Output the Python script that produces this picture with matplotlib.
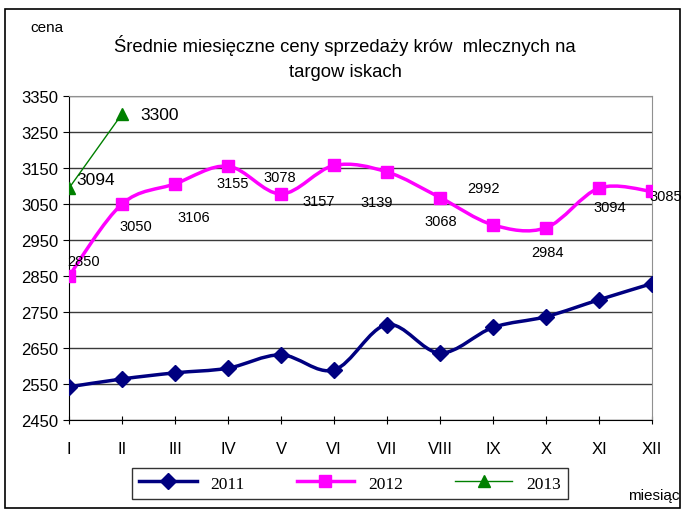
import numpy as np
import matplotlib
matplotlib.use('Agg')
from matplotlib import pyplot as plt
from matplotlib.path import Path
from matplotlib.patches import PathPatch, Rectangle
from matplotlib.lines import Line2D

plt.rcParams['font.family'] = ['Liberation Sans Narrow', 'Liberation Sans', 'DejaVu Sans']

months = ['I', 'II', 'III', 'IV', 'V', 'VI', 'VII', 'VIII', 'IX', 'X', 'XI', 'XII']
y2011 = [2542, 2564, 2581, 2594, 2631, 2589, 2715, 2636, 2707, 2737, 2784, 2829]
y2012 = [2850, 3050, 3106, 3155, 3078, 3157, 3139, 3068, 2992, 2984, 3094, 3085]
y2013 = [3094, 3300]

# label offsets in pixels (dx, dy) for 2012 and 2013 data labels
off2012 = [(15, 15), (14, -22), (19, -33), (5, -17), (-1, 17), (-15, -36),
           (-10, -30), (1, -23), (-10, 37), (1, -24), (11, -19), (14, -5)]
off2013 = [(27, 9), (38, 0)]


def smooth(ax, xs, ys, color, lw):
    # excel-like smoothed line: catmull-rom as cubic bezier
    pts = np.column_stack([xs, ys]).astype(float)
    n = len(pts)
    verts = [pts[0]]
    codes = [Path.MOVETO]
    for i in range(n - 1):
        p0 = pts[max(i - 1, 0)]
        p1 = pts[i]
        p2 = pts[i + 1]
        p3 = pts[min(i + 2, n - 1)]
        verts += [p1 + (p2 - p0) / 6, p2 - (p3 - p1) / 6, p2]
        codes += [Path.CURVE4] * 3
    ax.add_patch(PathPatch(Path(verts, codes), fill=False, edgecolor=color,
                           lw=lw, capstyle='round', joinstyle='round', zorder=3))


fig = plt.figure(figsize=(6.83, 5.1), dpi=100)
fig.patches.append(Rectangle((5 / 683, 1 / 510), 675 / 683, 499 / 510, transform=fig.transFigure,
                             fill=False, edgecolor='black', lw=1.2))

ax = fig.add_axes([69 / 683, 1 - 421 / 510, 583 / 683, 324 / 510])
x = np.arange(len(months))

smooth(ax, x, y2011, '#000080', 2.5)
ax.plot(x, y2011, ls='none', marker='D', ms=8, color='#000080', zorder=4)
smooth(ax, x, y2012, '#FF00FF', 2.5)
ax.plot(x, y2012, ls='none', marker='s', ms=9, color='#FF00FF', zorder=4)
ax.plot(x[:2], y2013, color='#008000', lw=1, marker='^', ms=9, zorder=5)

for i, v in enumerate(y2012):
    ax.annotate(str(v), (x[i], v), xytext=off2012[i], textcoords='offset pixels',
                ha='center', va='center', fontsize=10.5, annotation_clip=False)
for i, v in enumerate(y2013):
    ax.annotate(str(v), (x[i], v), xytext=off2013[i], textcoords='offset pixels',
                ha='center', va='center', fontsize=12.5, annotation_clip=False)

ax.set_xlim(0, 11)
ax.set_ylim(2450, 3350)
ax.set_yticks(np.arange(2450, 3351, 100))
ax.set_xticks(x)
ax.set_xticklabels(months, fontsize=12)
ax.tick_params(axis='y', labelsize=12, length=4, direction='out', color='black')
ax.tick_params(axis='x', length=6, direction='inout', pad=12)
ax.grid(axis='y', color='#3a3a3a', lw=1)
ax.set_axisbelow(True)
for s in ['top', 'right']:
    ax.spines[s].set_color('#909090')
for s in ['left', 'bottom']:
    ax.spines[s].set_color('black')

fig.text(30 / 683, 1 - 28 / 510, 'cena', fontsize=11, va='center')
fig.text(628 / 683, 1 - 496 / 510, 'miesiąc', fontsize=11, va='center')
fig.text(345 / 683, 1 - 45 / 510, 'Średnie miesięczne ceny sprzedaży krów  mlecznych na',
         fontsize=13.3, ha='center', va='center')
fig.text(345 / 683, 1 - 73 / 510, 'targow iskach', fontsize=13.3, ha='center', va='center')

handles = [Line2D([], [], color='#000080', lw=2.5, marker='D', ms=8),
           Line2D([], [], color='#FF00FF', lw=2.5, marker='s', ms=9),
           Line2D([], [], color='#008000', lw=1, marker='^', ms=9)]
leg = fig.legend(handles, ['2011', '2012', '2013'], loc='center', ncol=3,
                 bbox_to_anchor=(350 / 683, 1 - 484.5 / 510), frameon=True, fancybox=False,
                 edgecolor='black', handlelength=3.3, columnspacing=3.0, borderpad=0.4,
                 prop={'family': 'Liberation Serif', 'size': 12.5})
leg.get_frame().set_linewidth(1)

fig.savefig('out.png', dpi=100)
